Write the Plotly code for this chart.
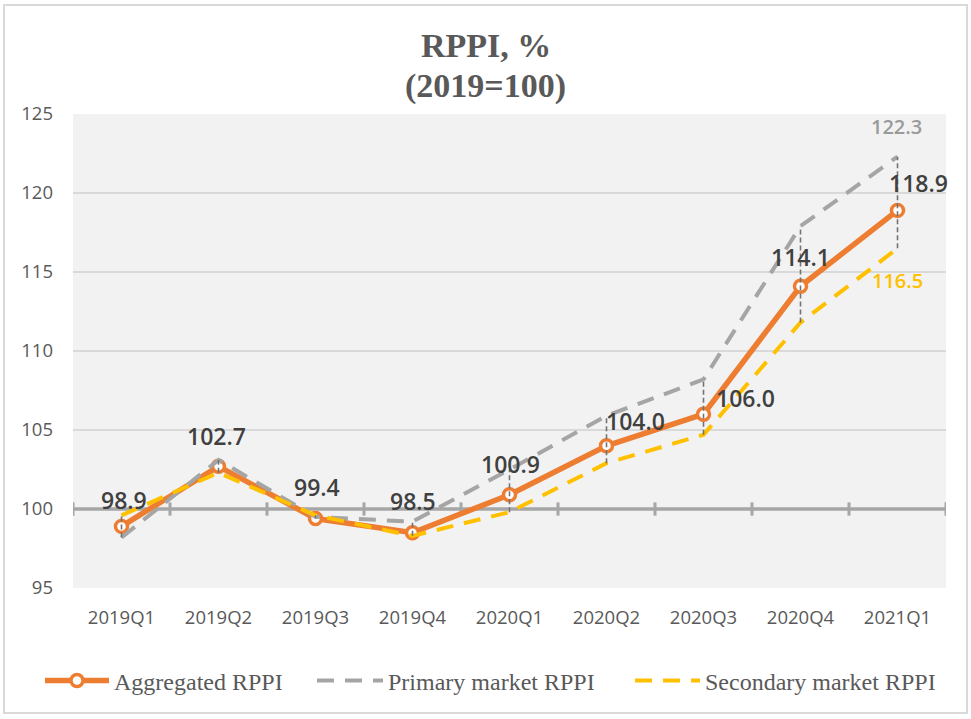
import plotly.graph_objects as go

categories = ["2019Q1", "2019Q2", "2019Q3", "2019Q4", "2020Q1", "2020Q2", "2020Q3", "2020Q4", "2021Q1"]
aggregated = [98.9, 102.7, 99.4, 98.5, 100.9, 104.0, 106.0, 114.1, 118.9]
primary = [98.2, 103.1, 99.5, 99.2, 102.5, 105.9, 108.2, 117.9, 122.3]
secondary = [99.6, 102.3, 99.6, 98.3, 99.8, 102.9, 104.7, 111.8, 116.5]
y_ticks = [95, 100, 105, 110, 115, 120, 125]
title_lines = ["RPPI, %", "(2019=100)"]

ORANGE = "#ED7D31"
GRAY = "#A5A5A5"
YELLOW = "#FFC000"
TXT = "#595959"
LBL = "#404040"

W, H = 971, 719
ML, MR, MT, MB = 73, 25, 114, 131
pw, ph = W - ML - MR, H - MT - MB


def px_x(p):
    return (p - ML) / pw


def px_y(p):
    return (H - MB - p) / ph


fig = go.Figure()

fig.add_trace(go.Scatter(
    x=categories, y=aggregated, name="Aggregated RPPI", mode="lines+markers", legend="legend",
    line=dict(color=ORANGE, width=5.5),
    marker=dict(symbol="circle", size=12, color="white", line=dict(color=ORANGE, width=3.5)),
))
fig.add_trace(go.Scatter(
    x=categories, y=primary, name="Primary market RPPI", mode="lines", legend="legend2",
    line=dict(color=GRAY, width=4, dash="17px,11px"),
))
fig.add_trace(go.Scatter(
    x=categories, y=secondary, name="Secondary market RPPI", mode="lines", legend="legend3",
    line=dict(color=YELLOW, width=4, dash="17px,11px"),
))

# high-low lines
hx, hy = [], []
for c, a, p, s in zip(categories, aggregated, primary, secondary):
    hx += [c, c, None]
    hy += [min(a, p, s), max(a, p, s), None]
fig.add_trace(go.Scatter(
    x=hx, y=hy, mode="lines", showlegend=False, hoverinfo="skip",
    line=dict(color="#737373", width=1.6, dash="5px,3px"),
))

# horizontal axis line at 100 with tick marks at category boundaries
n = len(categories)
fig.add_shape(type="line", xref="x", yref="y", x0=-0.5, x1=n - 0.5, y0=100, y1=100,
              line=dict(color="#A6A6A6", width=3.5), layer="between")
for k in range(n + 1):
    fig.add_shape(type="line", xref="x", yref="y", x0=k - 0.5, x1=k - 0.5, y0=99.58, y1=100.42,
                  line=dict(color="#A6A6A6", width=3), layer="between")

# data labels
LBL_FONT = dict(family="Open Sans", size=23, color=LBL, weight=600)
agg_offsets = [(2, 26), (-2, 30), (1, 31), (0, 32), (1, 31), (29, 25), (42, 16), (0, 29), (21, 27)]
for c, v, (dx, dy) in zip(categories, aggregated, agg_offsets):
    fig.add_annotation(x=c, y=v, text=f"{v:.1f}", showarrow=False, xshift=dx, yshift=dy, font=LBL_FONT)
fig.add_annotation(x=categories[-1], y=primary[-1], text=f"{primary[-1]:.1f}", showarrow=False,
                   xshift=-1, yshift=30, font=dict(family="Open Sans", size=20, color="#9A9A9A", weight=600))
fig.add_annotation(x=categories[-1], y=secondary[-1], text=f"{secondary[-1]:.1f}", showarrow=False,
                   xshift=0, yshift=-32, font=dict(family="Open Sans", size=20, color=YELLOW, weight=600))

# title (two lines)
for txt, py in zip(title_lines, [46, 86]):
    fig.add_annotation(xref="paper", yref="paper", x=px_x(W / 2), y=px_y(py), text=f"<b>{txt}</b>",
                       showarrow=False, xanchor="center", yanchor="middle",
                       font=dict(family="Liberation Serif", size=34, color=TXT))

# outer frame
fig.add_shape(type="rect", xref="paper", yref="paper",
              x0=px_x(4), x1=px_x(967), y0=px_y(713), y1=px_y(5),
              line=dict(color="#D9D9D9", width=2), fillcolor="rgba(0,0,0,0)", layer="below")

LEG_FONT = dict(family="Liberation Serif", size=24, color=TXT)
legend_common = dict(orientation="h", yanchor="middle", y=px_y(681), xanchor="left",
                     font=LEG_FONT, bgcolor="rgba(0,0,0,0)")

fig.update_layout(
    width=W, height=H,
    margin=dict(l=ML, r=MR, t=MT, b=MB),
    paper_bgcolor="white", plot_bgcolor="#F2F2F2",
    showlegend=True,
    legend=dict(**legend_common, x=px_x(40), itemwidth=64),
    legend2=dict(**legend_common, x=px_x(312), itemwidth=66),
    legend3=dict(**legend_common, x=px_x(630), itemwidth=65),
    xaxis=dict(type="category", range=[-0.5, n - 0.5], showgrid=False, zeroline=False,
               showline=False, ticks="", ticklabelstandoff=16,
               tickfont=dict(family="Open Sans", size=18.5, color=TXT)),
    yaxis=dict(range=[95, 125], tickvals=y_ticks, showgrid=True, gridcolor="#D9D9D9", gridwidth=2,
               zeroline=False, showline=False, ticks="", ticklabelstandoff=19,
               tickfont=dict(family="Open Sans", size=18.5, color=TXT)),
)

fig.write_html("out.html", config={"displayModeBar": False},
               post_script="document.body.style.margin='0px';")
